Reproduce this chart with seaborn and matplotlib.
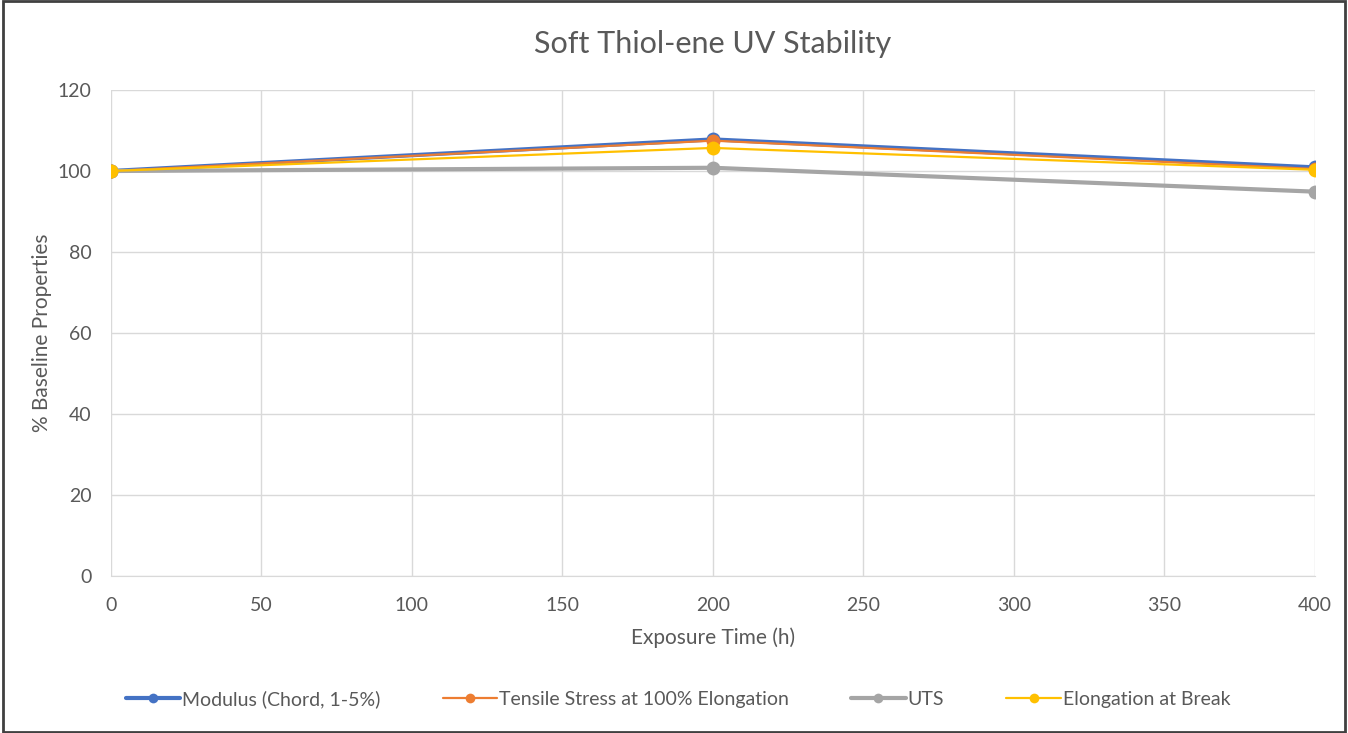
import matplotlib
matplotlib.use("Agg")
import matplotlib.pyplot as plt
import pandas as pd
import seaborn as sns

# exposure times (h) and % of baseline for each property
hours = [0, 200, 400]
modulus = [100.0, 107.8, 100.9]
tensile = [100.0, 107.5, 100.5]
uts = [100.0, 100.8, 94.9]
elongation = [100.0, 105.7, 100.3]

series = ["Modulus (Chord, 1-5%)", "Tensile Stress at 100% Elongation", "UTS", "Elongation at Break"]
colors = ["#4472C4", "#ED7D31", "#A5A5A5", "#FFC000"]
widths = [3.0, 1.6, 3.0, 1.6]

rows = []
for name, vals in zip(series, [modulus, tensile, uts, elongation]):
    for h, v in zip(hours, vals):
        rows.append({"Exposure Time (h)": h, "value": v, "series": name})
df = pd.DataFrame(rows)

sns.set_style("white")
plt.rcParams["font.family"] = ["Lato", "DejaVu Sans"]
txt = "#595959"

fig = plt.figure(figsize=(13.48, 7.33), dpi=100)
ax = fig.add_axes([0.0823, 0.2142, 0.8932, 0.663])

for name, c, lw in zip(series, colors, widths):
    sns.lineplot(data=df[df.series == name], x="Exposure Time (h)", y="value",
                 color=c, lw=lw, marker="o", markersize=10, markeredgewidth=0,
                 label=name, ax=ax, legend=False)

ax.set_xlim(0, 400)
ax.set_ylim(0, 120)
ax.set_xticks(range(0, 401, 50))
ax.set_yticks(range(0, 121, 20))
ax.grid(True, color="#D9D9D9", lw=1)
for s in ["top", "right", "left"]:
    ax.spines[s].set_visible(False)
ax.spines["bottom"].set_color("#D9D9D9")
ax.tick_params(axis="both", colors=txt, labelsize=14, length=0)
ax.tick_params(axis="x", pad=15)
ax.tick_params(axis="y", pad=14)
ax.set_xlabel("Exposure Time (h)", color=txt, fontsize=15, labelpad=10)
ax.set_ylabel("% Baseline Properties", color=txt, fontsize=15, labelpad=4)
ax.set_title("Soft Thiol-ene UV Stability", color=txt, fontsize=22, pad=27)

handles, labels = ax.get_legend_handles_labels()
fig.legend(handles, labels, loc="center", bbox_to_anchor=(0.503, 0.046), ncol=4,
           frameon=False, fontsize=14, labelcolor=txt, handlelength=2.8,
           handletextpad=0.1, columnspacing=3.2, markerscale=0.7)

# outer chart border
fig.add_artist(plt.Rectangle((0.002, 0.002), 0.996, 0.996, transform=fig.transFigure,
                             fill=False, edgecolor="#404040", lw=2))

fig.savefig("out.png", dpi=100)
